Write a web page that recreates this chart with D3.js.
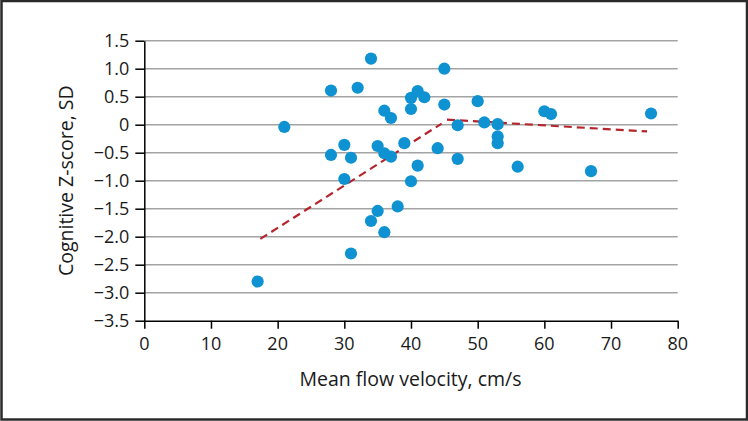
<!DOCTYPE html>
<html>
<head>
<meta charset="utf-8">
<script src="https://cdn.jsdelivr.net/npm/d3@7"></script>
<style>
  html, body { margin: 0; padding: 0; background: #fff; }
  svg { display: block; font-family: "Open Sans", "Noto Sans", sans-serif; }
</style>
</head>
<body>
<svg id="chart" width="748" height="421"></svg>
<script>
// ---- data ----
const velocity = [34, 28, 32, 40, 41, 36, 37, 40, 21, 30, 28, 31, 35, 36, 37, 39, 41,
                  42, 45, 45, 50, 47, 51, 53, 53, 53, 60, 61, 76, 44, 47, 56, 67,
                  40, 38, 30, 35, 34, 36, 31, 17];
const zscore   = [1.18, 0.61, 0.66, 0.48, 0.60, 0.25, 0.12, 0.28, -0.04, -0.36, -0.54, -0.59, -0.38, -0.51, -0.57, -0.33, -0.73,
                  0.49, 1.00, 0.36, 0.42, -0.01, 0.04, 0.01, -0.21, -0.33, 0.24, 0.19, 0.20, -0.42, -0.61, -0.75, -0.83,
                  -1.01, -1.46, -0.97, -1.54, -1.72, -1.92, -2.30, -2.80];
// piecewise fitted lines (dashed)
const fitSegment1 = [[17.4, -2.04], [44.6, 0.02]];
const fitSegment2 = [[45.4, 0.09], [75.4, -0.12]];
const xTicks = [0, 10, 20, 30, 40, 50, 60, 70, 80];
const yTicks = [1.5, 1.0, 0.5, 0, -0.5, -1.0, -1.5, -2.0, -2.5, -3.0, -3.5];
const xTitle = "Mean flow velocity, cm/s";
const yTitle = "Cognitive Z-score, SD";

// ---- layout ----
const W = 748, H = 421;
const plot = { left: 144.3, right: 677.7, top: 40.7, bottom: 320.7 };
const svg = d3.select("#chart");

// frame
svg.append("rect").attr("x", 1.5).attr("y", 1).attr("width", W - 2.5).attr("height", H - 2.5)
  .attr("fill", "#fff").attr("stroke", "#2a2a2a").attr("stroke-width", 2.5);

const x = d3.scaleLinear().domain([0, 80]).range([plot.left, plot.right]);
const y = d3.scaleLinear().domain([-3.5, 1.5]).range([plot.bottom, plot.top]);

const fmtY = v => v === 0 ? "0" : (v < 0 ? "\u2212" : "") + Math.abs(v).toFixed(1);

// gridlines
svg.append("g").selectAll("line").data(yTicks.filter(v => v > -3.5)).join("line")
  .attr("x1", plot.left).attr("x2", plot.right)
  .attr("y1", d => y(d)).attr("y2", d => y(d))
  .attr("stroke", "#a3a3a3").attr("stroke-width", 1.6);

// axes (lines + ticks)
const xAxis = svg.append("g").attr("transform", `translate(0,${plot.bottom})`)
  .call(d3.axisBottom(x).tickValues(xTicks).tickFormat("").tickSize(8).tickSizeOuter(0));
const yAxis = svg.append("g").attr("transform", `translate(${plot.left},0)`)
  .call(d3.axisLeft(y).tickValues(yTicks).tickFormat("").tickSize(9).tickSizeOuter(0));

[xAxis, yAxis].forEach(g => {
  g.select(".domain").attr("stroke", "#000").attr("stroke-width", 1.5);
  g.selectAll(".tick line").attr("stroke", "#000").attr("stroke-width", 1.5);
  g.selectAll(".tick text").remove();
});

// tick labels
svg.append("g").selectAll("text").data(xTicks).join("text")
  .attr("x", d => x(d)).attr("y", plot.bottom + 29)
  .attr("text-anchor", "middle")
  .style("font-size", "18px").style("fill", "#1a1a1a")
  .text(d => String(d));
svg.append("g").selectAll("text").data(yTicks).join("text")
  .attr("x", plot.left - 15).attr("y", d => y(d) + 6.5)
  .attr("text-anchor", "end")
  .style("font-size", "18px").style("fill", "#1a1a1a")
  .text(fmtY);

// fit lines
const line = d3.line().x(d => x(d[0])).y(d => y(d[1]));
[fitSegment1, fitSegment2].forEach(seg => {
  svg.append("path").attr("d", line(seg)).attr("fill", "none")
    .attr("stroke", "#b5252d").attr("stroke-width", 2.2).attr("stroke-dasharray", "8,5");
});

// points
svg.append("g").selectAll("circle").data(velocity.map((v, i) => [v, zscore[i]])).join("circle")
  .attr("cx", d => x(d[0])).attr("cy", d => y(d[1])).attr("r", 6.1)
  .attr("fill", "#0e92d1");

// titles
svg.append("text").attr("x", (plot.left + plot.right) / 2 - 0.5).attr("y", 386)
  .attr("text-anchor", "middle").style("font-size", "19.5px").attr("fill", "#1a1a1a").text(xTitle);
svg.append("text").attr("transform", `translate(73,${(plot.top + plot.bottom) / 2}) rotate(-90)`)
  .attr("text-anchor", "middle").style("font-size", "19.5px").attr("fill", "#1a1a1a").text(yTitle);
</script>
</body>
</html>
